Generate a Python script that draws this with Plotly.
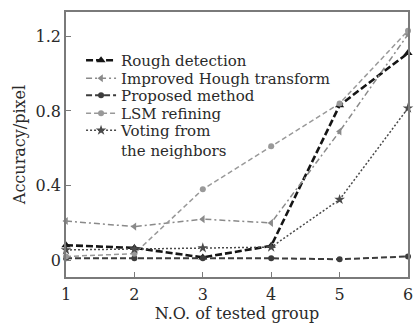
import plotly.graph_objects as go

groups = [1, 2, 3, 4, 5, 6]
rough_detection = [0.08, 0.066, 0.015, 0.077, 0.83, 1.11]
improved_hough = [0.21, 0.18, 0.22, 0.20, 0.69, 1.21]
proposed_method = [0.01, 0.01, 0.01, 0.01, 0.005, 0.02]
lsm_refining = [0.02, 0.035, 0.38, 0.61, 0.84, 1.23]
voting_neighbors = [0.055, 0.06, 0.066, 0.07, 0.325, 0.815]

y_tickvals = [0, 0.4, 0.8, 1.2]
y_ticktext = ["0", "0.4", "0.8", "1.2"]
x_tickvals = [1, 2, 3, 4, 5, 6]

FONT = "DejaVu Serif"
TXT = "#2a2a2a"

series = [
    ("Rough detection", rough_detection, "#151515", 2.6, "7px,3px", "triangle-up", 8),
    ("Improved Hough transform", improved_hough, "#8a8a8a", 1.5, "6px,3px,2px,3px", "triangle-left", 7),
    ("Proposed method", proposed_method, "#3c3c3c", 2.0, "6px,3px", "circle", 6),
    ("LSM refining", lsm_refining, "#999999", 1.5, "5px,3px", "circle", 6),
    ("Voting from<br>the neighbors", voting_neighbors, "#4a4a4a", 1.5, "2px,2px", "star", 8),
]

legend_names = ["legend", "legend2", "legend3", "legend4", "legend5"]
row_centers_px = [59, 77, 94, 112, 129]
PLOT_TOP, PLOT_H = 12, 265

fig = go.Figure()
for (name, vals, color, w, dash, sym, size), lg in zip(series, legend_names):
    fig.add_trace(go.Scatter(
        x=groups, y=vals, name=name, mode="lines+markers",
        line=dict(color=color, width=w, dash=dash),
        marker=dict(symbol=sym, size=size, color=color),
        cliponaxis=False, legend=lg,
    ))

axis_common = dict(
    showgrid=False, zeroline=False, showline=True, mirror=True,
    linecolor="#7a7a7a", linewidth=1.5, automargin=False,
    ticks="inside", ticklen=5, tickcolor="#7a7a7a", tickwidth=1.2,
    tickfont=dict(family=FONT, size=16, color=TXT),
)

legend_layout = {}
for lg, c in zip(legend_names, row_centers_px):
    top = c - 15
    legend_layout[lg] = dict(
        x=0.044, y=1 - (top - PLOT_TOP) / PLOT_H, xanchor="left", yanchor="top",
        bgcolor="rgba(0,0,0,0)", borderwidth=0,
        font=dict(family=FONT, size=15, color=TXT),
        valign="top",
    )

fig.update_layout(
    width=416, height=323,
    margin=dict(l=66, r=8, t=12, b=46),
    paper_bgcolor="white", plot_bgcolor="white",
    font=dict(family=FONT, size=16, color=TXT),
    showlegend=True,
    xaxis=dict(
        range=[1, 6], tickvals=x_tickvals, ticklabelstandoff=2,
        title=dict(text="N.O. of tested group", standoff=1,
                   font=dict(family=FONT, size=16, color=TXT)),
        **axis_common,
    ),
    yaxis=dict(
        range=[-0.09, 1.33], tickvals=y_tickvals, ticktext=y_ticktext,
        title=dict(text="Accuracy/pixel", standoff=6,
                   font=dict(family=FONT, size=16, color=TXT)),
        **axis_common,
    ),
    **legend_layout,
)

fig.write_html("out.html")
